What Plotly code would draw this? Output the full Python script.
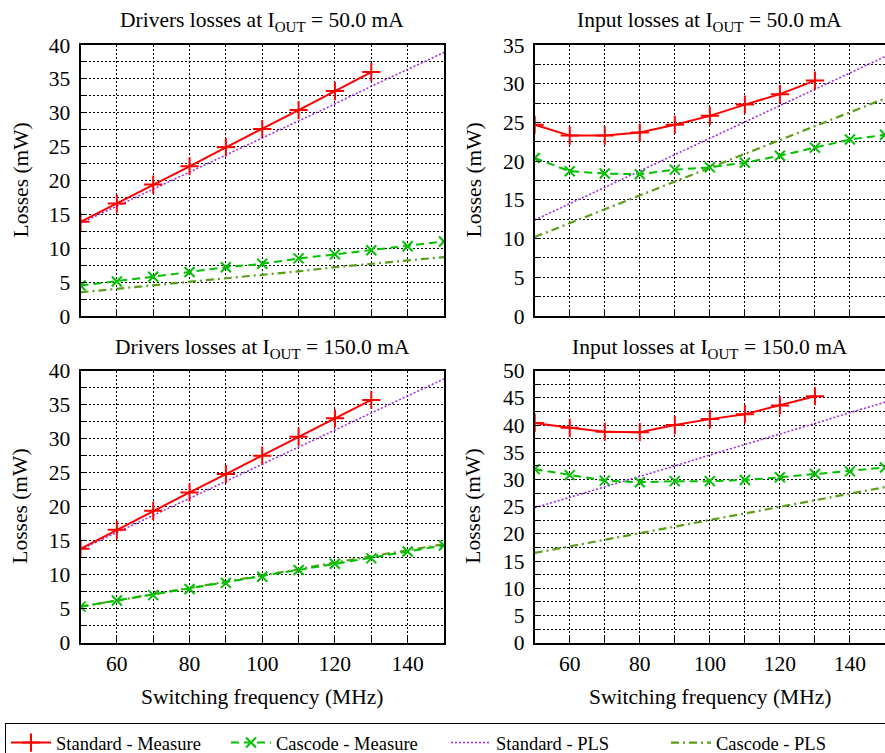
import plotly.graph_objects as go

# ---------------- data ----------------
freq_std = [50, 60, 70, 80, 90, 100, 110, 120, 130]
freq_all = [50, 60, 70, 80, 90, 100, 110, 120, 130, 140, 150]

# Drivers losses, I_OUT = 50 mA
drv50_std_meas = [13.9, 16.6, 19.4, 22.1, 24.9, 27.6, 30.4, 33.2, 36.0]
drv50_cas_meas = [4.5, 5.1, 5.8, 6.5, 7.2, 7.7, 8.5, 9.1, 9.7, 10.3, 11.0]
drv50_std_pls = [13.7, 16.2, 18.7, 21.3, 23.8, 26.3, 28.8, 31.3, 33.9, 36.4, 38.9]
drv50_cas_pls = [3.5, 4.0, 4.5, 5.1, 5.6, 6.1, 6.6, 7.2, 7.7, 8.2, 8.7]

# Input losses, I_OUT = 50 mA
inp50_std_meas = [24.7, 23.3, 23.3, 23.7, 24.7, 25.85, 27.3, 28.65, 30.4]
inp50_cas_meas = [20.4, 18.7, 18.4, 18.3, 18.9, 19.2, 19.8, 20.7, 21.75, 22.8, 23.4]
inp50_std_pls = [12.4, 14.5, 16.6, 18.7, 20.8, 23.0, 25.1, 27.2, 29.3, 31.4, 33.5]
inp50_cas_pls = [10.2, 12.0, 13.8, 15.6, 17.4, 19.2, 20.9, 22.7, 24.5, 26.3, 28.1]

# Drivers losses, I_OUT = 150 mA
drv150_std_meas = [13.8, 16.6, 19.4, 22.1, 24.8, 27.5, 30.3, 33.0, 35.7]
drv150_cas_meas = [5.3, 6.2, 7.0, 7.9, 8.8, 9.7, 10.7, 11.6, 12.4, 13.4, 14.3]
drv150_std_pls = [13.7, 16.2, 18.7, 21.2, 23.7, 26.3, 28.8, 31.3, 33.8, 36.3, 38.8]
drv150_cas_pls = [5.3, 6.2, 7.2, 8.1, 9.0, 9.9, 10.8, 11.8, 12.7, 13.6, 14.5]

# Input losses, I_OUT = 150 mA
inp150_std_meas = [40.4, 39.5, 38.8, 38.7, 40.0, 41.1, 42.0, 43.6, 45.3]
inp150_cas_meas = [31.9, 30.8, 29.8, 29.5, 29.7, 29.7, 29.9, 30.4, 31.0, 31.5, 32.2]
inp150_std_pls = [24.8, 26.7, 28.6, 30.6, 32.5, 34.5, 36.4, 38.4, 40.3, 42.3, 44.2]
inp150_cas_pls = [16.5, 17.7, 18.9, 20.1, 21.3, 22.6, 23.8, 25.0, 26.2, 27.4, 28.6]

series_names = ["Standard - Measure", "Cascode - Measure", "Standard - PLS", "Cascode - PLS"]
panel_titles = [
    "Drivers losses at I<sub>OUT</sub> = 50.0 mA",
    "Input losses at I<sub>OUT</sub> = 50.0 mA",
    "Drivers losses at I<sub>OUT</sub> = 150.0 mA",
    "Input losses at I<sub>OUT</sub> = 150.0 mA",
]
y_max = [40, 35, 40, 50]
x_ticks = [60, 80, 100, 120, 140]
y_title = "Losses (mW)"
x_title = "Switching frequency (MHz)"

panels = [
    (drv50_std_meas, drv50_cas_meas, drv50_std_pls, drv50_cas_pls),
    (inp50_std_meas, inp50_cas_meas, inp50_std_pls, inp50_cas_pls),
    (drv150_std_meas, drv150_cas_meas, drv150_std_pls, drv150_cas_pls),
    (inp150_std_meas, inp150_cas_meas, inp150_std_pls, inp150_cas_pls),
]

# ---------------- style ----------------
W, H = 885, 753
FONT = "Liberation Serif"
FS = 21.5
RED = "#ff0000"
GREEN = "#00c000"
PURPLE = "#a020f0"
OLIVE = "#5a9e1a"

x_dom = [[80.5 / W, 444.0 / W], [534.7 / W, 1.0]]
y_dom = [[1 - 316.0 / H, 1 - 45.0 / H], [1 - 642.7 / H, 1 - 370.7 / H]]

fig = go.Figure()

for i, (sm, cm, sp, cp) in enumerate(panels):
    ax = "" if i == 0 else str(i + 1)
    xa, ya = "x" + ax, "y" + ax
    show = i == 0
    fig.add_trace(go.Scatter(
        x=freq_all, y=sp, xaxis=xa, yaxis=ya, mode="lines", name=series_names[2],
        legendgroup="sp", showlegend=show, legendrank=3,
        line=dict(color=PURPLE, width=1.5, dash="2px,2px")))
    fig.add_trace(go.Scatter(
        x=freq_all, y=cp, xaxis=xa, yaxis=ya, mode="lines", name=series_names[3],
        legendgroup="cp", showlegend=show, legendrank=4,
        line=dict(color=OLIVE, width=2.2, dash="8px,4px,2px,4px")))
    fig.add_trace(go.Scatter(
        x=freq_all, y=cm, xaxis=xa, yaxis=ya, mode="lines+markers", name=series_names[1],
        legendgroup="cm", showlegend=show, legendrank=2,
        line=dict(color=GREEN, width=2, dash="8px,5px"),
        marker=dict(symbol="x-thin-open", size=10, color=GREEN, line=dict(width=2, color=GREEN))))
    fig.add_trace(go.Scatter(
        x=freq_std, y=sm, xaxis=xa, yaxis=ya, mode="lines+markers", name=series_names[0],
        legendgroup="sm", showlegend=show, legendrank=1,
        line=dict(color=RED, width=2),
        marker=dict(symbol="cross-thin-open", size=13, color=RED, line=dict(width=2, color=RED))))

layout = dict(
    width=W, height=H,
    margin=dict(l=0, r=0, t=0, b=0, autoexpand=False),
    paper_bgcolor="white", plot_bgcolor="white",
    font=dict(family=FONT, size=FS, color="black"),
    showlegend=True,
    legend=dict(
        orientation="h", x=5.0 / W, y=1 - 723.0 / H, xanchor="left", yanchor="top",
        bordercolor="black", borderwidth=1, bgcolor="white",
        font=dict(family=FONT, size=18.5, color="black"),
        entrywidth=165, entrywidthmode="pixels", traceorder="normal",
        itemwidth=40, tracegroupgap=0,
    ),
)

annotations = []
for i in range(4):
    row, col = divmod(i, 2)
    ax = "" if i == 0 else str(i + 1)
    xd, yd = x_dom[col], y_dom[row]
    layout["xaxis" + ax] = dict(
        domain=xd, anchor="y" + ax, range=[50, 150],
        tickmode="array", tickvals=x_ticks, ticktext=[str(v) for v in x_ticks],
        showticklabels=(row == 1), ticks="inside", ticklen=6, tickwidth=1, tickcolor="black",
        ticklabelstandoff=0,
        showgrid=True, gridcolor="black", gridwidth=1, griddash="2px,2px",
        minor=dict(dtick=10, tick0=0, showgrid=True, gridcolor="black", gridwidth=1,
                   griddash="2px,2px", ticks="inside", ticklen=6, tickcolor="black"),
        showline=True, linecolor="black", linewidth=2, mirror=True, zeroline=False,
        tickfont=dict(family=FONT, size=FS),
    )
    layout["yaxis" + ax] = dict(
        domain=yd, anchor="x" + ax, range=[0, y_max[i]],
        dtick=5, tick0=0, ticks="inside", ticklen=6, tickwidth=1, tickcolor="black",
        ticklabelstandoff=4,
        showgrid=True, gridcolor="black", gridwidth=1, griddash="2px,2px",
        minor=dict(dtick=2.5, tick0=0, showgrid=True, gridcolor="black", gridwidth=1,
                   griddash="2px,2px", ticks="inside", ticklen=4, tickcolor="black"),
        showline=True, linecolor="black", linewidth=2,
        mirror=(True if col == 0 else False), zeroline=False,
        tickfont=dict(family=FONT, size=FS),
    )
    # panel title
    title_y = 1 - (22.0 if row == 0 else 348.0) / H
    annotations.append(dict(
        text=panel_titles[i], xref="paper", yref="paper",
        x=(xd[0] + xd[1]) / 2 if col == 0 else (xd[0] + 885.0 / W) / 2, y=title_y,
        xanchor="center", yanchor="middle", showarrow=False,
        font=dict(family=FONT, size=FS)))
    # y axis title
    annotations.append(dict(
        text=y_title, xref="paper", yref="paper", textangle=-90,
        x=(20.0 if col == 0 else 473.0) / W, y=(yd[0] + yd[1]) / 2,
        xanchor="center", yanchor="middle", showarrow=False,
        font=dict(family=FONT, size=FS)))
    if row == 1:
        annotations.append(dict(
            text=x_title, xref="paper", yref="paper",
            x=(xd[0] + xd[1]) / 2, y=1 - 697.0 / H,
            xanchor="center", yanchor="middle", showarrow=False,
            font=dict(family=FONT, size=FS)))

layout["annotations"] = annotations
fig.update_layout(**layout)

fig.write_html("out.html", config={"displayModeBar": False},
               post_script="document.body.style.margin='0';")
